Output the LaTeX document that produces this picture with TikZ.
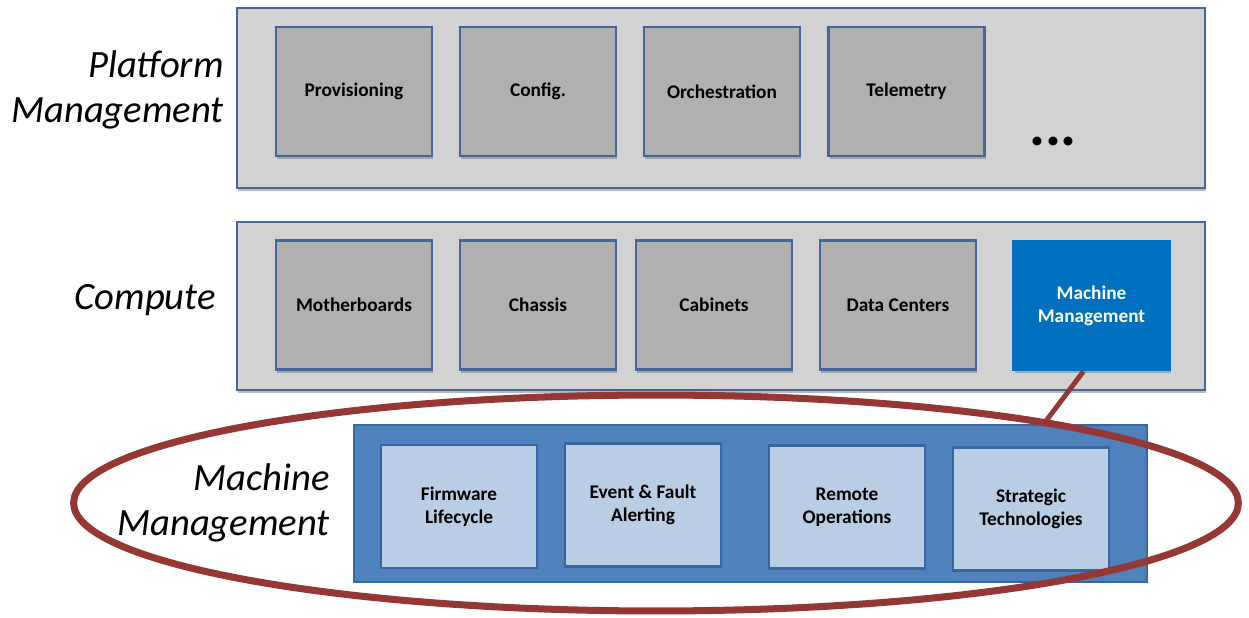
\documentclass[tikz,border=0pt]{standalone}
\usepackage{fontspec}
\setmainfont{Carlito}
\usetikzlibrary{shapes.geometric,shadows,positioning}

\definecolor{barfill}{RGB}{210,210,210}
\definecolor{boxfill}{RGB}{176,176,176}
\definecolor{frame}{RGB}{68,102,152}
\definecolor{mmblue}{RGB}{0,112,192}
\definecolor{layerblue}{RGB}{79,129,189}
\definecolor{layeredge}{RGB}{58,102,160}
\definecolor{tileblue}{RGB}{185,205,229}
\definecolor{ringred}{RGB}{149,55,53}

\tikzset{
  boxshadow/.style={drop shadow={shadow xshift=0.6pt, shadow yshift=-2pt, opacity=0.55}},
  bar/.style={draw=frame, line width=1.3pt, fill=barfill, minimum width=19.36cm, boxshadow},
  graybox/.style={draw=frame, line width=1.6pt, fill=boxfill, minimum width=3.12cm,
    minimum height=2.58cm, align=center, font=\bfseries\fontsize{11}{13}\selectfont, boxshadow},
  bluebox/.style={graybox, draw=mmblue, fill=mmblue, text=white},
  tile/.style={draw=layeredge, line width=1.3pt, fill=tileblue, minimum width=3.12cm,
    minimum height=2.46cm, align=center, font=\bfseries\fontsize{11}{13}\selectfont},
  layerlabel/.style={anchor=east, align=right, font=\itshape\fontsize{22}{25.5}\selectfont},
  ring/.style={ellipse, draw=ringred, line width=4pt, inner sep=0pt,
    minimum width=23.3cm, minimum height=4.32cm},
  link/.style={draw=ringred, line width=2.8pt}
}

\begin{document}
\begin{tikzpicture}[x=0.02cm, y=-0.02cm]
    \useasboundingbox (0,0) rectangle (1249,618);

    % Layers
    \node[bar, minimum height=3.6cm] (platform) at (721,98) {};
    \node[bar, minimum height=3.36cm] (compute) at (721,306) {};
    \node[draw=layeredge, line width=1.3pt, fill=layerblue, minimum width=15.86cm,
        minimum height=3.14cm] (machine) at (750.5,503.5) {};

    % Platform management row
    \foreach \x/\name/\txt in {354/prov/Provisioning, 538/conf/Config.,
            722/orch/Orchestration, 906.5/tele/Telemetry}
        \node[graybox] (\name) at (\x,91.5) {\txt};
    \node[font=\bfseries\fontsize{34}{40}\selectfont] (more) at (1053,142) {...};

    % Compute row
    \foreach \x/\name/\txt in {354/board/Motherboards, 538/chassis/Chassis,
            714/cab/Cabinets, 898/dc/Data Centers}
        \node[graybox] (\name) at (\x,305) {\txt};
    \node[bluebox] (mm) at (1091.5,305.5) {Machine\\Management};

    % Machine management row
    \node[tile] (fw) at (459,506.5) {Firmware\\Lifecycle};
    \node[tile] (alert) at (643,505) {Event \& Fault\\Alerting};
    \node[tile] (remote) at (847,507) {Remote\\Operations};
    \node[tile] (strat) at (1031,509) {Strategic\\Technologies};

    % Side labels
    \node[layerlabel] (lplat) at (230,90) {Platform\\Management};
    \node[layerlabel] (lcomp) at (222,300) {Compute};
    \node[layerlabel] (lmach) at (336,503) {Machine\\Management};

    % Zoom ring and its link
    \node[ring] (ring) at (656,503) {};
    \draw[link, shorten >=-4pt] (mm.-97) -- (ring.12.2);
\end{tikzpicture}
\end{document}
